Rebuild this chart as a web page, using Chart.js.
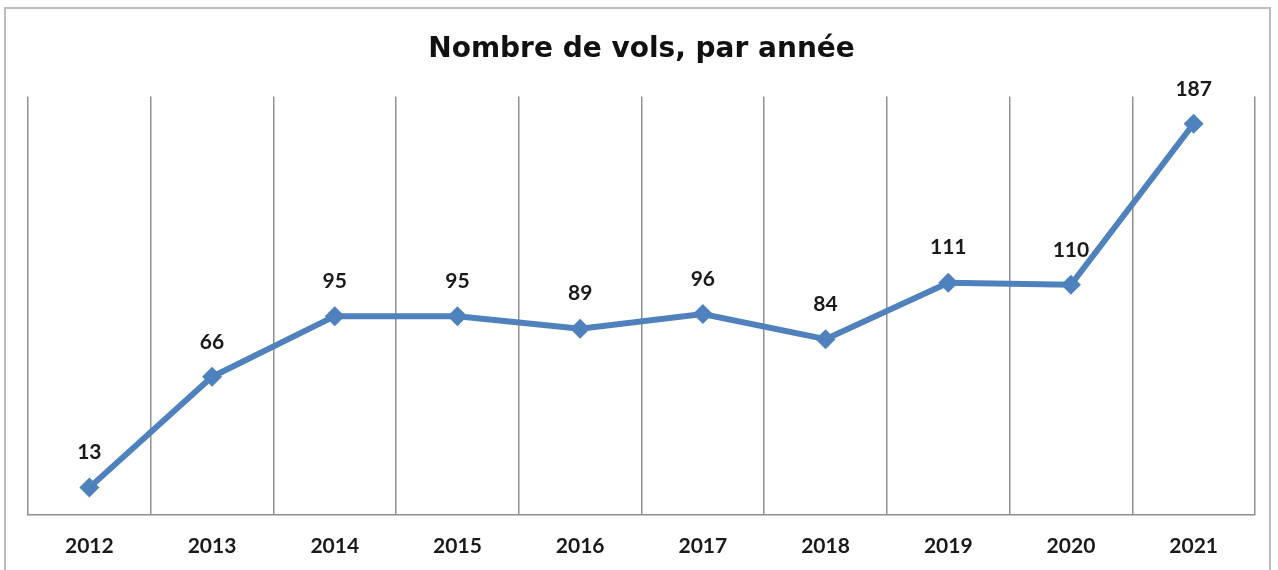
<!DOCTYPE html>
<html>
<head>
<meta charset="utf-8">
<script src="https://cdn.jsdelivr.net/npm/chart.js@4.4.0/dist/chart.umd.min.js"></script>
<style>
  html, body { margin: 0; padding: 0; background: #fff; overflow: hidden; }
  #frame {
    position: absolute; left: 4px; top: 7px; width: 1267px; height: 600px;
    border: 2px solid #bdbdbd; box-sizing: border-box;
  }
  #wrap { position: absolute; left: 0; top: 0; width: 1278px; height: 570px; overflow: hidden; }
</style>
</head>
<body>
<div id="frame"></div>
<div id="wrap"><canvas id="volsChart" width="1278" height="590"></canvas></div>
<script>
const years = ['2012', '2013', '2014', '2015', '2016', '2017', '2018', '2019', '2020', '2021'];
const vols = [13, 66, 95, 95, 89, 96, 84, 111, 110, 187];
const yRange = [0, 200];

// étiquettes de valeur au-dessus des points
const valueLabels = {
  id: 'valueLabels',
  afterDatasetsDraw(chart) {
    const ctx = chart.ctx;
    const meta = chart.getDatasetMeta(0);
    ctx.save();
    ctx.font = 'bold 21px Lato';
    ctx.fillStyle = '#1a1a1a';
    ctx.textAlign = 'center';
    ctx.textBaseline = 'middle';
    meta.data.forEach((pt, i) => {
      ctx.fillText(String(vols[i]), pt.x, pt.y - 35);
    });
    ctx.restore();
  }
};

new Chart(document.getElementById('volsChart'), {
  type: 'line',
  data: {
    labels: years,
    datasets: [{
      data: vols,
      borderColor: '#4F81BD',
      backgroundColor: '#4F81BD',
      borderWidth: 6,
      tension: 0,
      pointStyle: 'rectRot',
      pointRadius: 10,
      pointBackgroundColor: '#4F81BD',
      pointBorderColor: '#4F81BD',
      pointBorderWidth: 0
    }]
  },
  options: {
    responsive: false,
    animation: false,
    layout: { padding: { left: 28, right: 23, top: 0, bottom: 12 } },
    plugins: {
      legend: { display: false },
      tooltip: { enabled: false },
      title: {
        display: true,
        text: 'Nombre de vols, par année',
        color: '#111',
        font: { family: 'DejaVu Sans', size: 28, weight: 'bold' },
        padding: { top: 33, bottom: 30 }
      }
    },
    scales: {
      x: {
        offset: true,
        grid: { offset: true, color: '#909090', lineWidth: 1.5, drawTicks: false },
        border: { color: '#909090', width: 1.5 },
        ticks: {
          color: '#1a1a1a',
          padding: 19,
          font: { family: 'Lato', size: 21, weight: 'bold' }
        }
      },
      y: {
        display: false,
        min: yRange[0],
        max: yRange[1]
      }
    }
  },
  plugins: [valueLabels]
});
</script>
</body>
</html>
